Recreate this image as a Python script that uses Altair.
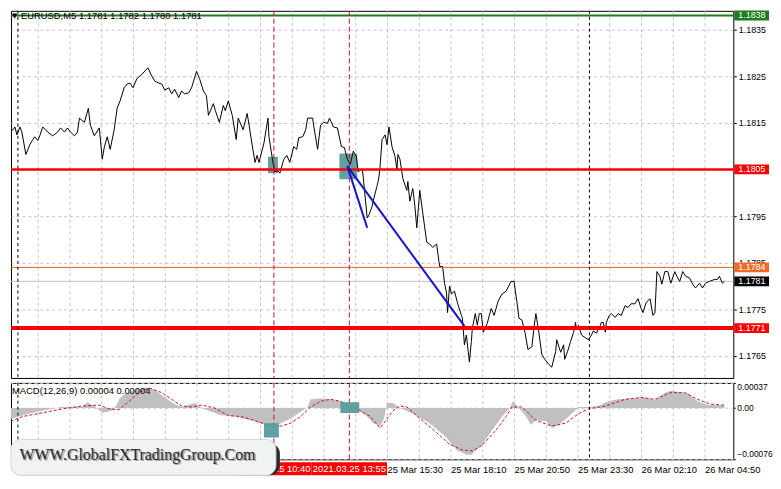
import altair as alt
import pandas as pd

# ---------------- data ----------------
# price series (bar index, close) for EURUSD M5, bar 0 = 24 Mar 23:30
price_series = [
    (0, 1.18130), (3.5, 1.18135), (4.5, 1.18141), (5.5, 1.18124), (7, 1.18141), (8, 1.18130),
    (10, 1.18082), (12, 1.18103), (13.5, 1.18114), (14.5, 1.18120), (16, 1.18112), (17, 1.18122),
    (18.5, 1.18141), (21, 1.18130), (23.5, 1.18122), (26, 1.18130), (27.5, 1.18139), (29.5, 1.18130),
    (31, 1.18139), (32.5, 1.18130), (34.5, 1.18122), (36, 1.18130), (37, 1.18160), (39.5, 1.18151),
    (41.5, 1.18181), (42.5, 1.18145), (44.5, 1.18122), (47, 1.18139), (48.5, 1.18072), (49.5, 1.18097),
    (51, 1.18120), (52.5, 1.18093), (54.5, 1.18135), (56, 1.18181), (57.5, 1.18197), (59.5, 1.18225),
    (61, 1.18233), (62.5, 1.18235), (64, 1.18225), (66, 1.18245), (68.5, 1.18254), (71.5, 1.18268),
    (73, 1.18254), (75, 1.18239), (77, 1.18235), (78.5, 1.18233), (80, 1.18220), (82, 1.18225),
    (83.5, 1.18212), (85, 1.18222), (87, 1.18204), (88.5, 1.18218), (90, 1.18212), (92, 1.18214),
    (93.5, 1.18225), (96, 1.18260), (97.5, 1.18245), (99.5, 1.18218), (101, 1.18208), (102, 1.18166),
    (104.5, 1.18191), (105.5, 1.18176), (107.5, 1.18151), (109.5, 1.18187), (110.5, 1.18176),
    (112, 1.18197), (114, 1.18166), (116, 1.18114), (117, 1.18160), (119.5, 1.18135), (121.5, 1.18170),
    (122.5, 1.18145), (124, 1.18103), (125.5, 1.18065), (126.5, 1.18080), (127.5, 1.18065),
    (130, 1.18107), (132, 1.18160), (132.5, 1.18120), (134.5, 1.18065), (135.5, 1.18045),
    (137, 1.18047), (138, 1.18042), (140, 1.18072), (141.5, 1.18080), (143, 1.18065), (145, 1.18099),
    (146.5, 1.18093), (147.5, 1.18118), (149.5, 1.18120), (151, 1.18135), (152, 1.18160),
    (154.5, 1.18160), (155, 1.18145), (157, 1.18093), (158.5, 1.18145), (160, 1.18151), (162, 1.18149),
    (163, 1.18160), (165, 1.18141), (167, 1.18139), (169, 1.18099), (170.5, 1.18097), (172, 1.18072),
    (173.5, 1.18061), (175, 1.18089), (176.5, 1.18078), (177.5, 1.18045), (179.5, 1.18051),
    (180, 1.18034), (182, 1.17946), (183, 1.17953), (184.5, 1.17971), (185, 1.17982), (187, 1.18015),
    (187.5, 1.18024), (188, 1.18036), (188.5, 1.18057), (189.5, 1.18114), (191, 1.18124),
    (192, 1.18103), (193, 1.18141), (194.5, 1.18099), (196, 1.18078), (197, 1.18051), (197.5, 1.18082),
    (198.5, 1.18072), (200, 1.18030), (202, 1.18005), (202.5, 1.18024), (203.5, 1.17982),
    (205, 1.18009), (206, 1.17973), (207, 1.17925), (208.5, 1.18005), (210, 1.17957), (212, 1.17894),
    (213.5, 1.17890), (215, 1.17883), (217, 1.17890), (218.5, 1.17842), (220, 1.17842), (221, 1.17806),
    (222, 1.17785), (222.5, 1.17743), (223.5, 1.17800), (224.5, 1.17783), (226, 1.17789),
    (227.5, 1.17764), (229.5, 1.17737), (230, 1.17731), (231, 1.17674), (232, 1.17695),
    (233.5, 1.17637), (234.5, 1.17681), (235, 1.17710), (236.5, 1.17741), (237.5, 1.17716),
    (238.5, 1.17741), (239.5, 1.17741), (240.5, 1.17701), (242.5, 1.17720), (244.5, 1.17752),
    (246, 1.17737), (248, 1.17768), (250, 1.17783), (252, 1.17789), (254.5, 1.17810), (256, 1.17810),
    (257.5, 1.17764), (258.5, 1.17731), (260, 1.17727), (261.5, 1.17701), (263, 1.17664),
    (265, 1.17670), (266, 1.17710), (267, 1.17741), (268.5, 1.17701), (270, 1.17653), (271.5, 1.17643),
    (273.5, 1.17632), (275, 1.17626), (277, 1.17660), (277.5, 1.17685), (279.5, 1.17658),
    (281, 1.17674), (281.5, 1.17643), (283, 1.17660), (284.5, 1.17681), (286, 1.17701), (287, 1.17722),
    (287.5, 1.17706), (288.5, 1.17716), (290, 1.17695), (292, 1.17689), (293.5, 1.17685),
    (295, 1.17695), (296, 1.17704), (297.5, 1.17699), (299.5, 1.17716), (300, 1.17722), (301, 1.17722),
    (302, 1.17701), (302.5, 1.17722), (304, 1.17737), (305, 1.17741), (307, 1.17733), (308.5, 1.17741),
    (310, 1.17737), (312, 1.17758), (313.5, 1.17754), (315, 1.17762), (317, 1.17762), (318.5, 1.17773),
    (320, 1.17752), (321, 1.17743), (322.5, 1.17764), (324.5, 1.17773), (326, 1.17737), (327, 1.17743),
    (328, 1.17831), (329.5, 1.17821), (330.5, 1.17804), (332, 1.17831), (333.5, 1.17831),
    (335, 1.17806), (337, 1.17831), (338, 1.17821), (339.5, 1.17810), (341, 1.17831), (342.5, 1.17821),
    (344.5, 1.17817), (346, 1.17804), (347.5, 1.17796), (349.5, 1.17806), (351, 1.17796),
    (352.5, 1.17806), (354.5, 1.17810), (357, 1.17814), (358.5, 1.17814), (359.5, 1.17821),
    (361, 1.17806), (362, 1.17810),
]

# MACD(12,26,9) main histogram (bar, value)
macd_hist = [
    (0, -0.000184), (8.5, -0.000109), (16, -0.000052), (23.5, -0.000014), (28.5, 0.000018),
    (38.5, 0.000018), (41, 0.000085), (44.5, 0.000028), (48.5, -0.000071), (53.5, -0.000042),
    (56, 0.000056), (57, 0.000127), (59.5, 0.000198), (65, 0.000268), (70, 0.000301), (75, 0.000268),
    (80, 0.000155), (85, 0.000056), (88.5, 0.000014), (95, 0.000071), (98.5, 0.0), (103.5, -0.000057),
    (108.5, -0.000109), (115, -0.000127), (123.5, -0.000184), (128.5, -0.000226), (132, -0.000268),
    (133.5, -0.000297), (138.5, -0.000226), (143.5, -0.000155), (148.5, -0.000057), (152, 0.000014),
    (153.5, 0.000127), (158.5, 0.000141), (163.5, 0.000127), (168.5, 0.000099), (173.5, 0.000028),
    (178.5, -0.000057), (182, -0.000127), (185, -0.000226), (188.5, -0.000268), (190.5, -0.000155),
    (192, 0.000071), (195, 0.000071), (198.5, 0.0), (205, -0.000085), (213.5, -0.000226),
    (222, -0.000438), (227, -0.000622), (232, -0.000692), (234.5, -0.000692), (237, -0.000622),
    (240, -0.000537), (245, -0.000325), (250, -0.000127), (253.5, -0.000014), (255.5, 0.000099),
    (258.5, 0.0), (262, -0.000127), (264.5, -0.000254), (267, -0.000184), (272, -0.000198),
    (275, -0.000297), (278.5, -0.000254), (283.5, -0.000127), (288.5, 0.000014), (293.5, 0.000014),
    (298.5, 0.000028), (303.5, 0.000099), (308.5, 0.000127), (315, 0.000141), (322, 0.000155),
    (327, 0.000113), (332, 0.000226), (335, 0.000254), (338.5, 0.000240), (343.5, 0.000212),
    (348.5, 0.000099), (353.5, 0.000042), (362, 0.00004),
]

# MACD signal line (bar, value)
macd_signal = [
    (0, -0.000226), (8.5, -0.000127), (18.5, -0.000071), (28.5, -0.000014), (38.5, 0.000028),
    (47, 0.000042), (52, -0.000014), (57, -0.000028), (62, 0.000099), (67, 0.000226), (72, 0.000297),
    (78.5, 0.000226), (83.5, 0.000127), (88.5, 0.000028), (93.5, 0.000014), (98.5, 0.000042),
    (105, 0.0), (112, -0.000113), (118.5, -0.000127), (125, -0.000184), (132, -0.000254),
    (138.5, -0.000268), (143.5, -0.000226), (148.5, -0.000127), (153.5, 0.000014), (158.5, 0.000099),
    (163.5, 0.000127), (168.5, 0.000099), (173.5, 0.000028), (178.5, -0.000042), (183.5, -0.000127),
    (188.5, -0.000297), (195, -0.000042), (198.5, 0.000028), (202, 0.000014), (208.5, -0.000155),
    (217, -0.000367), (223.5, -0.000537), (230, -0.000622), (235, -0.000636), (240, -0.000551),
    (247, -0.000325), (252, -0.000127), (255, 0.000014), (260, 0.000014), (267, -0.000184),
    (275, -0.000268), (282, -0.000226), (288.5, -0.000085), (293.5, -0.000014), (302, 0.000028),
    (312, 0.000127), (320, 0.000155), (327, 0.000127), (335, 0.000226), (342, 0.000226),
    (348.5, 0.000127), (355, 0.000056), (362, 0.00004),
]

# horizontal levels
level_price = [1.1838, 1.1805, 1.1784, 1.1771]
level_color = ["#1e7b1e", "#ff0000", "#e0601e", "#ff0000"]
level_width = [2, 2.5, 1, 4]
level_box_color = ["#1e7b1e", "#ff0000", "#f26a2a", "#ff0000"]
bid_price = [1.1781]

# axis ticks
y_ticks = [1.1835, 1.1825, 1.1815, 1.1805, 1.1795, 1.1785, 1.1775, 1.1765]
macd_ticks = [0.00037, 0.0, -0.00076]
x_grid_bars = [16, 32, 48, 64, 80, 96, 112, 128, 144, 160, 176, 192, 208, 224, 240, 256, 272,
               288, 304, 320, 336, 352]
x_label_bars = [192, 224, 256, 288, 320, 352]
x_label_texts = ["25 Mar 15:30", "25 Mar 18:10", "25 Mar 20:50", "25 Mar 23:30", "26 Mar 02:10",
                 "26 Mar 04:50"]

# vertical markers
signal_bars = [135, 173]
signal_times = ["2021.03.25 10:40", "2021.03.25 13:55"]
separator_bars = [6, 294]

# signal boxes (bar0, bar1, top, bottom)
price_boxes = [(132, 137, 1.18077, 1.18042), (168, 177, 1.18084, 1.18029)]
macd_boxes = [(130, 137.5, -0.000226, -0.000438), (168.5, 178, 0.000085, -0.000075)]

# blue trend segments (bar0, price0, bar1, price1)
segments = [(172, 1.18057, 182, 1.17925), (172, 1.18057, 231, 1.17714)]

symbol = "EURUSD,M5"
header_ohlc = [1.1781, 1.1782, 1.1780, 1.1781]
macd_title = "MACD(12,26,9) 0.00004 0.00004"
watermark = "WWW.GlobalFXTradingGroup.Com"

# ---------------- styling ----------------
W = 728
H_MAIN = 370
H_MACD = 77
FONT = "Liberation Sans"
FS = 9.5
GRID = "#c4c4c4"
TEAL = "#5a9c9c"

xs = alt.Scale(domain=[2.5, 366.5], nice=False, zero=False)
ys = alt.Scale(domain=[1.17603, 1.18390], nice=False, zero=False)
ms = alt.Scale(domain=[-0.00076, 0.00037], nice=False, zero=False)

main_x_axis = alt.Axis(values=x_grid_bars, grid=True, gridColor=GRID, gridDash=[3, 3],
                       labels=False, ticks=False, domain=False, title=None)
main_y_axis = alt.Axis(orient="right", values=y_ticks, format=".4f", grid=True, gridColor=GRID,
                       gridDash=[3, 3], domain=False, tickColor="black", tickSize=3, labelPadding=2,
                       labelFont=FONT, labelFontSize=9, labelColor="black", title=None)

label_map = dict(zip(x_label_bars, x_label_texts))
arr = ",".join("'" + label_map.get(b, "") + "'" for b in x_grid_bars)
macd_x_axis = alt.Axis(values=x_grid_bars, grid=True, gridColor=GRID, gridDash=[3, 3],
                       labelExpr="[" + arr + "][round(datum.value/16)-1]",
                       labelAlign="left", labelBaseline="middle", labelPadding=10, ticks=False,
                       domain=False, labelOverlap=False, labelFlush=False, labelFont=FONT,
                       labelFontSize=FS, labelColor="black", title=None)
macd_y_axis = alt.Axis(orient="right", values=macd_ticks, grid=True, gridColor=GRID, gridDash=[3, 3],
                       labelExpr="datum.value == 0 ? '0.00' : format(datum.value, '.5f')",
                       labelBaseline={"condition": {"test": "datum.value > 0.0001", "value": "top"},
                                      "value": "middle"},
                       labelOffset={"condition": {"test": "datum.value < -0.0001", "value": -6},
                                    "value": 0},
                       domain=False, tickColor="black", tickSize=2, labelPadding=1.5, labelFont=FONT,
                       labelFontSize=8.5, labelColor="black", title=None)


def PX(f):
    return alt.X(f, type="quantitative", scale=xs, axis=main_x_axis)


def PY(f):
    return alt.Y(f, type="quantitative", scale=ys, axis=main_y_axis)


def MX(f):
    return alt.X(f, type="quantitative", scale=xs, axis=macd_x_axis)


def MY(f):
    return alt.Y(f, type="quantitative", scale=ms, axis=macd_y_axis)


price_df = pd.DataFrame(price_series, columns=["bar", "price"])
hist_df = pd.DataFrame(macd_hist, columns=["bar", "v"])
sig_df = pd.DataFrame(macd_signal, columns=["bar", "v"])
lv_df = pd.DataFrame({"price": level_price, "color": level_color, "w": level_width,
                      "box": level_box_color})
bid_df = pd.DataFrame({"price": bid_price})
pbox_df = pd.DataFrame(price_boxes, columns=["b0", "b1", "top", "bot"])
mbox_df = pd.DataFrame(macd_boxes, columns=["b0", "b1", "top", "bot"])
seg_df = pd.DataFrame(segments, columns=["b0", "p0", "b1", "p1"])
sigv_df = pd.DataFrame({"bar": signal_bars, "t": signal_times})
sep_df = pd.DataFrame({"bar": separator_bars})
one = pd.DataFrame({"k": [0]})
header_text = symbol + "  " + " ".join(f"{v:.4f}" for v in header_ohlc)
lbl_df = pd.DataFrame({"price": level_price + bid_price, "box": level_box_color + ["#000000"]})

# ---------------- main panel ----------------
m_bid = alt.Chart(bid_df).mark_rule(color="#c0c0c0", strokeWidth=1).encode(y=PY("price"))
m_pbox = alt.Chart(pbox_df).mark_rect(color=TEAL, opacity=0.95).encode(
    x=PX("b0"), x2="b1", y=PY("top"), y2="bot")
m_price = alt.Chart(price_df).mark_line(color="black", strokeWidth=1, clip=True).encode(
    x=PX("bar"), y=PY("price"))
m_levels = alt.Chart(lv_df).mark_rule().encode(
    y=PY("price"), color=alt.Color("color:N", scale=None),
    strokeWidth=alt.StrokeWidth("w:Q", scale=None))
m_sigv = alt.Chart(sigv_df).mark_rule(color="#c8102e", strokeDash=[5, 3], strokeWidth=1).encode(
    x=PX("bar"))
m_sep = alt.Chart(sep_df).mark_rule(color="black", strokeDash=[3, 3], strokeWidth=1).encode(
    x=PX("bar"))
m_seg = alt.Chart(seg_df).mark_rule(color="#1414c8", strokeWidth=2).encode(
    x=PX("b0"), y=PY("p0"), x2="b1", y2="p1")
m_header = alt.Chart(one).mark_text(align="left", baseline="middle", font=FONT, fontSize=FS,
                                    color="black", text=header_text).encode(
    x=alt.value(10), y=alt.value(5.5))
m_tri = alt.Chart(one).mark_text(align="left", baseline="middle", font="DejaVu Sans", fontSize=7,
                                 color="black", text="▼").encode(x=alt.value(1), y=alt.value(5.5))
m_lbox = alt.Chart(lbl_df).transform_calculate(
    top="datum.price + 0.000105", bot="datum.price - 0.000105").mark_rect().encode(
    x=alt.value(W + 1), x2=alt.value(W + 36), y=PY("top:Q"), y2="bot:Q",
    color=alt.Color("box:N", scale=None))
m_ltxt = alt.Chart(lbl_df).mark_text(align="left", baseline="middle", font=FONT, fontSize=9,
                                     color="white").encode(
    x=alt.value(W + 5), y=PY("price"), text=alt.Text("price:Q", format=".4f"))

main = alt.layer(m_bid, m_pbox, m_price, m_levels, m_sigv, m_sep, m_seg, m_header, m_tri,
                 m_lbox, m_ltxt).properties(width=W, height=H_MAIN)

# ---------------- MACD panel ----------------
mc_hist = alt.Chart(hist_df).transform_calculate(z="0").mark_area(
    color="#c0c0c0", clip=True, interpolate="linear").encode(x=MX("bar"), y=MY("v"), y2="z:Q")
mc_sig = alt.Chart(sig_df).mark_line(color="#d0102a", strokeDash=[3, 2], strokeWidth=1,
                                     clip=True).encode(x=MX("bar"), y=MY("v"))
mc_sigv = alt.Chart(sigv_df).mark_rule(color="#c8102e", strokeDash=[5, 3], strokeWidth=1).encode(
    x=MX("bar"))
mc_sep = alt.Chart(sep_df).mark_rule(color="black", strokeDash=[3, 3], strokeWidth=1).encode(
    x=MX("bar"))
mc_box = alt.Chart(mbox_df).mark_rect(color=TEAL, opacity=0.95).encode(
    x=MX("b0"), x2="b1", y=MY("top"), y2="bot")
mc_title = alt.Chart(one).mark_text(align="left", baseline="middle", font=FONT, fontSize=FS,
                                    color="black", text=macd_title).encode(
    x=alt.value(1), y=alt.value(8))
mc_tbox = alt.Chart(sigv_df).transform_calculate(
    l="datum.bar - 19", r="datum.bar + 19").mark_rect(color="#ff0000").encode(
    x=MX("l:Q"), x2="r:Q", y=alt.value(H_MACD + 3), y2=alt.value(H_MACD + 16))
mc_ttxt = alt.Chart(sigv_df).mark_text(align="center", baseline="middle", font=FONT, fontSize=FS,
                                       color="white").encode(
    x=MX("bar"), y=alt.value(H_MACD + 10), text="t:N")
wm_shadow = alt.Chart(one).mark_rect(color="#2a2a2a", cornerRadius=10).encode(
    x=alt.value(0), x2=alt.value(271), y=alt.value(H_MACD - 16), y2=alt.value(H_MACD + 16))
wm_box = alt.Chart(one).mark_rect(color="#f1f2f4", cornerRadius=10, stroke="#d8d8d8").encode(
    x=alt.value(0), x2=alt.value(267), y=alt.value(H_MACD - 20), y2=alt.value(H_MACD + 16))
wm_tshadow = alt.Chart(one).mark_text(align="center", baseline="middle", font="Liberation Serif",
                                      fontSize=16, color="#a0a0a0", text=watermark).encode(
    x=alt.value(129), y=alt.value(H_MACD - 3))
wm_text = alt.Chart(one).mark_text(align="center", baseline="middle", font="Liberation Serif",
                                   fontSize=16, color="#262626", text=watermark).encode(
    x=alt.value(127.5), y=alt.value(H_MACD - 4.5))

macd = alt.layer(mc_hist, mc_sig, mc_sigv, mc_sep, mc_box, mc_title, mc_tbox, mc_ttxt,
                 wm_shadow, wm_box, wm_tshadow, wm_text).properties(width=W, height=H_MACD)

chart = alt.vconcat(main, macd, spacing=3).properties(
    padding=0, background="white"
).configure_view(stroke="black", strokeWidth=1)

chart.save("out.html", embed_options={"renderer": "svg", "actions": False})
